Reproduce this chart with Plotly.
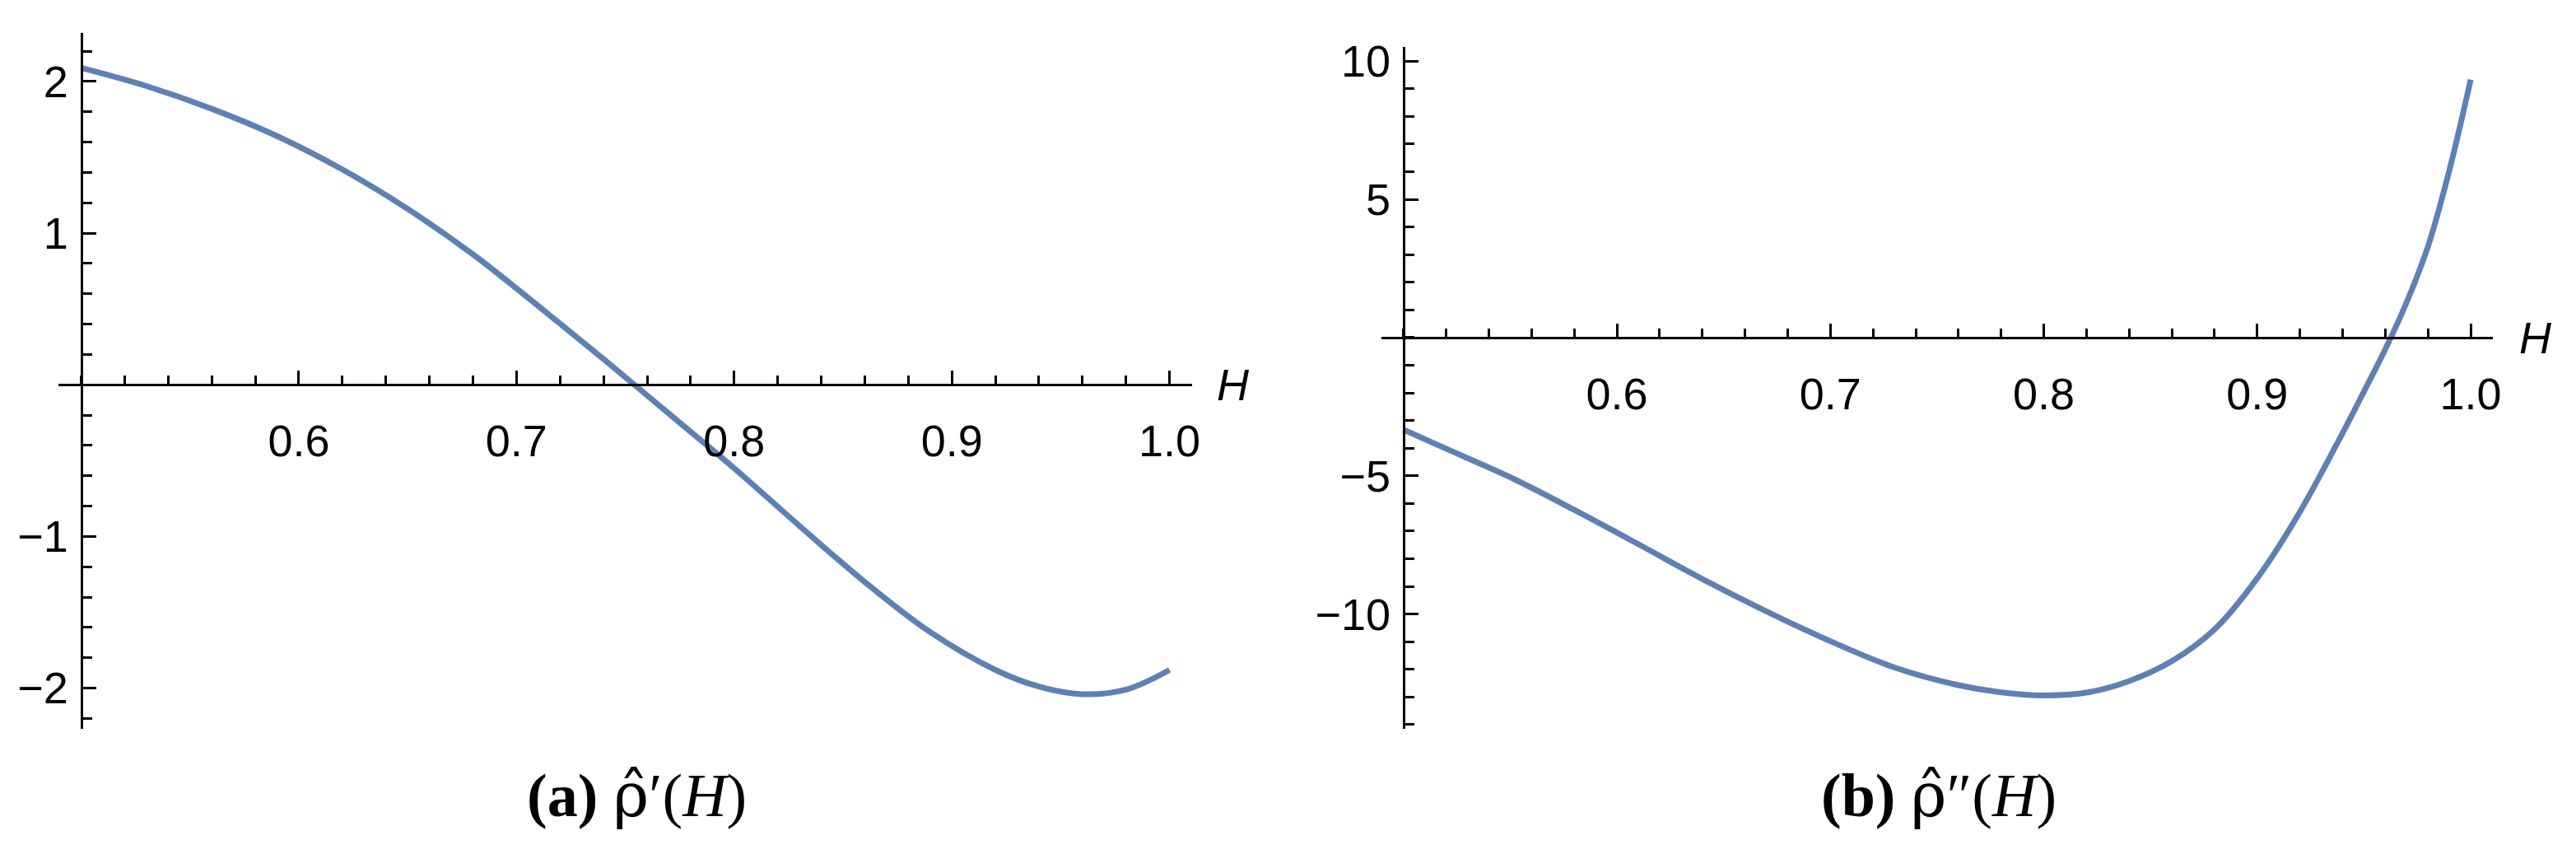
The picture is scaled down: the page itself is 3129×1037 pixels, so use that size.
import plotly.graph_objects as go

# ---------------- data ----------------
H_a = [0.50, 0.53, 0.56, 0.59, 0.62, 0.65, 0.68, 0.71, 0.74, 0.77, 0.80,
       0.83, 0.86, 0.89, 0.92, 0.94, 0.96, 0.98, 1.00]
rho1 = [2.09, 1.97, 1.82, 1.64, 1.42, 1.16, 0.86, 0.52, 0.17, -0.19, -0.55,
        -0.93, -1.30, -1.63, -1.88, -1.99, -2.04, -2.01, -1.88]

H_b = [0.50, 0.52, 0.55, 0.58, 0.61, 0.64, 0.67, 0.70, 0.73, 0.76, 0.78,
       0.80, 0.82, 0.84, 0.86, 0.88, 0.90, 0.92, 0.94, 0.95, 0.96, 0.97,
       0.98, 0.99, 1.00]
rho2 = [-3.33, -4.02, -5.05, -6.23, -7.47, -8.73, -9.90, -10.98, -11.93,
        -12.57, -12.83, -12.94, -12.84, -12.42, -11.70, -10.55, -8.70, -6.30,
        -3.45, -1.95, -0.42, 1.28, 3.30, 6.05, 9.33]

x_tickvals = [0.6, 0.7, 0.8, 0.9, 1.0]
x_ticktext = ["0.6", "0.7", "0.8", "0.9", "1.0"]
ya_tickvals = [-2, -1, 1, 2]
ya_ticktext = ["\u22122", "\u22121", "1", "2"]
yb_tickvals = [-10, -5, 5, 10]
yb_ticktext = ["\u221210", "\u22125", "5", "10"]
HAT = '<span style="font-family:DejaVu Serif">\u03c1\u0302</span>'
captions = ["<b>(a)</b> " + HAT + "\u2032(<i>H</i>)",
            "<b>(b)</b> " + HAT + "\u2033(<i>H</i>)"]

# ---------------- geometry ----------------
W, Hpx = 3129, 1037
LINE = "#5E81B5"
TICKFONT = dict(family="Liberation Sans, Arial, sans-serif", size=54, color="black")

xr = [0.4895, 1.0105]
ya_r = [-2.268, 2.322]
yb_r = [-14.147, 10.5]

# domains in paper coordinates
xa_dom = [71 / W, 1453 / W]
xb_dom = [1683 / W, 3038 / W]
ya_dom = [1 - 883 / Hpx, 1 - 27 / Hpx]
yb_dom = [1 - 883 / Hpx, 1 - 45 / Hpx]


def frac(v, r, d):
    return d[0] + (v - r[0]) / (r[1] - r[0]) * (d[1] - d[0])


fig = go.Figure()
fig.add_trace(go.Scatter(x=H_a, y=rho1, mode="lines", line=dict(color=LINE, width=7, shape="spline"),
                         xaxis="x", yaxis="y", showlegend=False))
fig.add_trace(go.Scatter(x=H_b, y=rho2, mode="lines", line=dict(color=LINE, width=7, shape="spline"),
                         xaxis="x2", yaxis="y2", showlegend=False))


def xaxis_cfg(dom, ypos):
    return dict(domain=dom, range=xr, anchor="free", position=ypos, side="bottom",
                showline=True, linecolor="black", linewidth=3, showgrid=False, zeroline=False,
                tickmode="array", tickvals=x_tickvals, ticktext=x_ticktext,
                ticks="inside", ticklen=16, tickwidth=2.5, tickcolor="black",
                tickfont=TICKFONT, ticklabelstandoff=20,
                minor=dict(tickmode="linear", tick0=0.5, dtick=0.02, ticks="inside",
                           ticklen=10, tickwidth=2.5, tickcolor="black", showgrid=False))


def yaxis_cfg(dom, r, xpos, tv, tt, mdt):
    return dict(domain=dom, range=r, anchor="free", position=xpos, side="left",
                showline=True, linecolor="black", linewidth=3, showgrid=False, zeroline=False,
                tickmode="array", tickvals=tv, ticktext=tt,
                ticks="inside", ticklen=16, tickwidth=2.5, tickcolor="black",
                tickfont=TICKFONT, ticklabelstandoff=4,
                minor=dict(tickmode="linear", tick0=0, dtick=mdt, ticks="inside",
                           ticklen=11, tickwidth=2.5, tickcolor="black", showgrid=False))


xa_pos = frac(0, ya_r, ya_dom)
xb_pos = frac(0, yb_r, yb_dom)
ya_pos = frac(0.5, xr, xa_dom)
yb_pos = frac(0.5, xr, xb_dom)

fig.update_layout(
    width=W, height=Hpx, autosize=False,
    margin=dict(l=0, r=0, t=0, b=0),
    paper_bgcolor="white", plot_bgcolor="white",
    xaxis=xaxis_cfg(xa_dom, xa_pos),
    yaxis=yaxis_cfg(ya_dom, ya_r, ya_pos, ya_tickvals, ya_ticktext, 0.2),
    xaxis2=xaxis_cfg(xb_dom, xb_pos),
    yaxis2=yaxis_cfg(yb_dom, yb_r, yb_pos, yb_tickvals, yb_ticktext, 1),
)

# axis labels "H"
for xp, yp in [(1503 / W, xa_pos), (3090 / W, xb_pos)]:
    fig.add_annotation(x=xp, y=yp, xref="paper", yref="paper", text="<i>H</i>",
                       showarrow=False, xanchor="center", yanchor="middle",
                       font=dict(family="Liberation Sans, Arial, sans-serif", size=54, color="black"))

# captions
for xp, txt in [(776 / W, captions[0]), (2363 / W, captions[1])]:
    fig.add_annotation(x=xp, y=1 - 964 / Hpx, xref="paper", yref="paper", text=txt,
                       showarrow=False, xanchor="center", yanchor="middle",
                       font=dict(family="Liberation Serif, Times New Roman, serif", size=74, color="black"))

fig.write_html("out.html", config={"displayModeBar": False},
               post_script="document.body.style.margin='0';")
